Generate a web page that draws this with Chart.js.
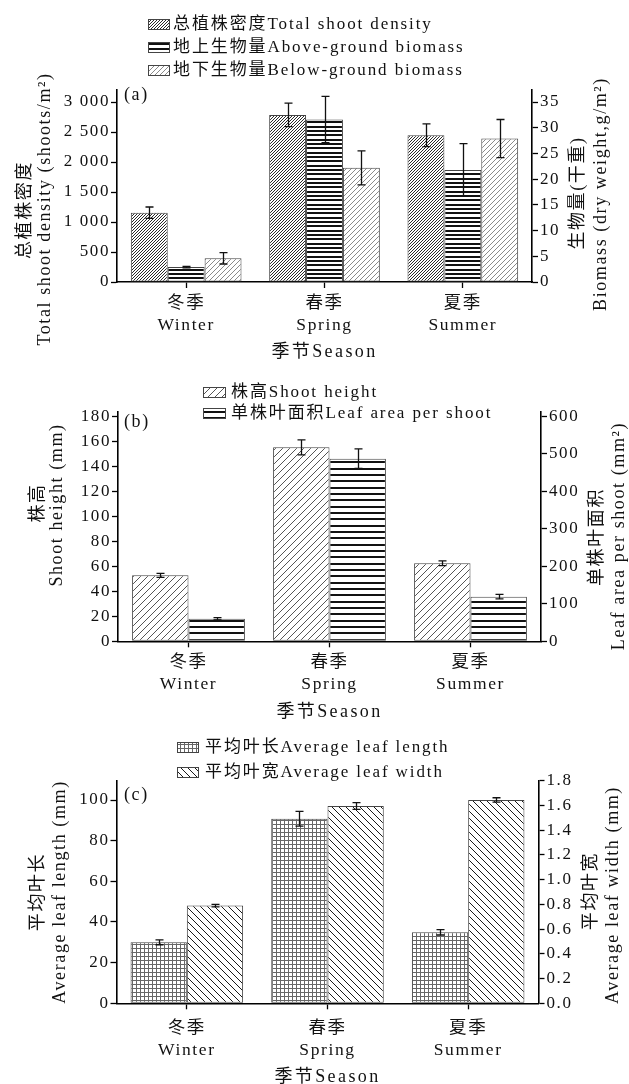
<!DOCTYPE html>
<html><head><meta charset="utf-8">
<script src="https://cdn.jsdelivr.net/npm/chart.js@4.4.1/dist/chart.umd.min.js"></script>
<style>
html,body{margin:0;padding:0;background:#fff;}
#wrap{position:relative;width:629px;height:1084px;overflow:hidden;background:#fff;}
canvas{position:absolute;left:0;}
</style></head><body>
<div id="wrap">
<canvas id="cA" width="629" height="360" style="top:0;width:629px;height:360px"></canvas>
<canvas id="cB" width="629" height="360" style="top:360px;width:629px;height:360px"></canvas>
<canvas id="cC" width="629" height="364" style="top:720px;width:629px;height:364px"></canvas>
</div>
<script>
// ---------- data ----------
const seasons = [['冬季','Winter'],['春季','Spring'],['夏季','Summer']];
// (a)
const shootDensity = [1155, 2785, 2445];
const shootDensityErr = [95, 195, 190];
const aboveBiomass = [2.9, 31.6, 21.8];
const aboveBiomassErr = [0.15, 4.5, 5.1];
const belowBiomass = [4.6, 22.2, 27.9];
const belowBiomassErr = [1.1, 3.3, 3.7];
const densityTicks = [0, 500, 1000, 1500, 2000, 2500, 3000];
const densityTickLabels = ['0', '500', '1 000', '1 500', '2 000', '2 500', '3 000'];
const biomassTicks = [0, 5, 10, 15, 20, 25, 30, 35];
const biomassTickLabels = ['0', '5', '10', '15', '20', '25', '30', '35'];
// (b)
const shootHeight = [52.8, 155.2, 62.4];
const shootHeightErr = [1.6, 6.0, 1.9];
const leafArea = [60, 487, 119];
const leafAreaErr = [3, 26, 6];
const heightTicks = [0, 20, 40, 60, 80, 100, 120, 140, 160, 180];
const heightTickLabels = ['0', '20', '40', '60', '80', '100', '120', '140', '160', '180'];
const areaTicks = [0, 100, 200, 300, 400, 500, 600];
const areaTickLabels = ['0', '100', '200', '300', '400', '500', '600'];
// (c)
const leafLength = [30.0, 90.8, 34.9];
const leafLengthErr = [1.2, 3.6, 1.3];
const leafWidth = [0.79, 1.595, 1.644];
const leafWidthErr = [0.01, 0.027, 0.018];
const lengthTicks = [0, 20, 40, 60, 80, 100];
const lengthTickLabels = ['0', '20', '40', '60', '80', '100'];
const widthTicks = [0, 0.2, 0.4, 0.6, 0.8, 1.0, 1.2, 1.4, 1.6, 1.8];
const widthTickLabels = ['0.0', '0.2', '0.4', '0.6', '0.8', '1.0', '1.2', '1.4', '1.6', '1.8'];

// ---------- styling helpers ----------
const FAM = "'Liberation Serif', 'Noto Sans CJK SC', serif";
const TXT = '#111';
const LS = '1.6px';

function makeTile(w, h, draw) {
  const c = document.createElement('canvas');
  c.width = w; c.height = h;
  const g = c.getContext('2d');
  g.fillStyle = '#fff'; g.fillRect(0, 0, w, h);
  draw(g, w, h);
  return c;
}
function diagPattern(ctx, s, color, lw, dir) {
  return ctx.createPattern(makeTile(s, s, (g, w, h) => {
    g.strokeStyle = color; g.lineWidth = lw; g.beginPath();
    for (let k = -1; k <= 1; k++) {
      if (dir > 0) { g.moveTo(k * s, s); g.lineTo(k * s + s, 0); }
      else { g.moveTo(k * s, 0); g.lineTo(k * s + s, s); }
    }
    g.stroke();
  }), 'repeat');
}
function stripePattern(ctx, h, rows, color) {
  return ctx.createPattern(makeTile(4, h, (g) => {
    g.fillStyle = color;
    rows.forEach(r => g.fillRect(0, r[0], 4, r[1]));
  }), 'repeat');
}
function gridPattern(ctx, s, color) {
  return ctx.createPattern(makeTile(s, s, (g, w, h) => {
    g.fillStyle = color;
    g.fillRect(0, 0, w, 1);
    g.fillRect(0, 0, 1, h);
  }), 'repeat');
}

// ---------- plugins ----------
const spacingPlugin = {
  id: 'spacing',
  beforeLayout(c) { c.ctx.letterSpacing = LS; },
  beforeDraw(c) { c.ctx.letterSpacing = LS; }
};

const errorBarPlugin = {
  id: 'errorBars',
  afterDatasetsDraw(chart) {
    const ctx = chart.ctx;
    chart.data.datasets.forEach((ds, i) => {
      if (!ds.errors) return;
      const meta = chart.getDatasetMeta(i);
      const sc = chart.scales[ds.yAxisID];
      ctx.save();
      ctx.strokeStyle = '#111';
      ctx.lineWidth = 1.3;
      meta.data.forEach((bar, j) => {
        const v = ds.data[j], e = ds.errors[j];
        const y1 = sc.getPixelForValue(v + e), y2 = sc.getPixelForValue(v - e);
        const x = Math.round(bar.x) + 0.5;
        ctx.beginPath();
        ctx.moveTo(x, y1); ctx.lineTo(x, y2);
        ctx.moveTo(x - 4, y1); ctx.lineTo(x + 4, y1);
        ctx.moveTo(x - 4, y2); ctx.lineTo(x + 4, y2);
        ctx.stroke();
      });
      ctx.restore();
    });
  }
};

const decorPlugin = {
  id: 'decor',
  afterDraw(chart, args, o) {
    const ctx = chart.ctx;
    const ca = chart.chartArea;
    ctx.save();
    ctx.fillStyle = TXT;
    // legend
    if (o.legend) {
      const L = o.legend;
      ctx.letterSpacing = '1.9px';
      ctx.font = `17px ${FAM}`;
      ctx.textBaseline = 'middle';
      ctx.textAlign = 'left';
      chart.data.datasets.forEach((ds, i) => {
        const y = L.ys[i];
        ctx.fillStyle = ds.backgroundColor;
        ctx.fillRect(L.x, y - L.h / 2, L.w, L.h);
        ctx.strokeStyle = '#444'; ctx.lineWidth = 1;
        ctx.strokeRect(L.x + 0.5, Math.round(y - L.h / 2) + 0.5, L.w, L.h);
        ctx.fillStyle = TXT;
        ctx.fillText(ds.label, L.textX, y + 1);
      });
    }
    // rotated axis titles
    ctx.letterSpacing = LS;
    (o.titles || []).forEach(t => {
      ctx.font = `18px ${FAM}`;
      ctx.textAlign = 'center';
      ctx.textBaseline = 'middle';
      t.lines.forEach((line, k) => {
        ctx.save();
        ctx.translate(t.xs[k], t.cys[k]);
        ctx.rotate(-Math.PI / 2);
        ctx.fillText(line, 0, 0);
        ctx.restore();
      });
    });
    // x title
    if (o.xTitle) {
      ctx.letterSpacing = '2.4px';
      ctx.font = `18px ${FAM}`;
      ctx.textAlign = 'center';
      ctx.textBaseline = 'middle';
      ctx.fillText(o.xTitle.text, (ca.left + ca.right) / 2, o.xTitle.y);
    }
    // panel tag
    if (o.tag) {
      ctx.letterSpacing = LS;
      ctx.font = `18px ${FAM}`;
      ctx.textAlign = 'left';
      ctx.textBaseline = 'middle';
      ctx.fillText(o.tag.text, o.tag.x, o.tag.y);
    }
    ctx.restore();
  }
};

function yScale(pos, max, vals, labels, width, pad) {
  return {
    type: 'linear', position: pos, min: 0, max: max,
    afterBuildTicks: s => { s.ticks = vals.map(v => ({ value: v })); },
    afterFit: s => { s.width = width; },
    ticks: {
      callback: (v, i) => labels[i],
      font: { family: FAM, size: 17 }, color: TXT, padding: pad
    },
    grid: { display: true, drawOnChartArea: false, drawTicks: true, tickLength: 6, tickColor: '#000', tickWidth: 1.3 },
    border: { display: true, color: '#000', width: 1.6 }
  };
}
function xScale(height, pad) {
  return {
    type: 'category', offset: true,
    afterFit: s => { s.height = height; },
    ticks: { font: { family: FAM, size: 17.5, lineHeight: 1.27 }, color: TXT, padding: pad, maxRotation: 0, autoSkip: false },
    grid: { display: true, drawOnChartArea: false, offset: false, drawTicks: true, tickLength: 6, tickColor: '#000', tickWidth: 1.3 },
    border: { display: true, color: '#000', width: 1.6 }
  };
}
function barDs(label, data, errors, axis, bg) {
  return {
    label, data, errors, yAxisID: axis, backgroundColor: bg,
    borderColor: '#444', borderWidth: 1, borderSkipped: false,
    categoryPercentage: 0.8, barPercentage: 1.0
  };
}
function build(id, datasets, scales, padTop, decor) {
  const el = document.getElementById(id);
  return new Chart(el, {
    type: 'bar',
    data: { labels: seasons, datasets },
    options: {
      responsive: false, animation: false, devicePixelRatio: 1,
      layout: { padding: { top: padTop, left: 0, right: 0, bottom: 0 }, autoPadding: false },
      plugins: { legend: { display: false }, tooltip: { enabled: false }, decor },
      scales
    },
    plugins: [spacingPlugin, errorBarPlugin, decorPlugin]
  });
}

// ---------- panel (a) ----------
{
  const ctx = document.getElementById('cA').getContext('2d');
  const pD = diagPattern(ctx, 3, '#2a2a2a', 1, 1);
  const pA = stripePattern(ctx, 13, [[0, 2], [4, 2], [9, 2]], '#111');
  const pB = diagPattern(ctx, 5, '#8a8a8a', 1, 1);
  build('cA', [
    barDs('总植株密度Total shoot density', shootDensity, shootDensityErr, 'y', pD),
    barDs('地上生物量Above-ground biomass', aboveBiomass, aboveBiomassErr, 'y2', pA),
    barDs('地下生物量Below-ground biomass', belowBiomass, belowBiomassErr, 'y2', pB)
  ], {
    x: xScale(78, 4),
    y: yScale('left', 3210, densityTicks, densityTickLabels, 117, 1),
    y2: yScale('right', 37.45, biomassTicks, biomassTickLabels, 97, 2)
  }, 89.4, {
    legend: { x: 148, w: 21, h: 10, ys: [24, 47, 70], textX: 173 },
    titles: [
      { lines: ['总植株密度', 'Total shoot density (shoots/m²)'], xs: [25, 45], cys: [210, 209] },
      { lines: ['生物量(干重)', 'Biomass (dry weight,g/m²)'], xs: [578, 601], cys: [193, 194] }
    ],
    xTitle: { text: '季节Season', y: 352 },
    tag: { text: '(a)', x: 124, y: 95 }
  });
}

// ---------- panel (b) ----------
{
  const ctx = document.getElementById('cB').getContext('2d');
  const pH = diagPattern(ctx, 7, '#555', 1, 1);
  const pL = stripePattern(ctx, 19, [[0, 2], [6, 2], [13, 2]], '#111');
  build('cB', [
    barDs('株高Shoot height', shootHeight, shootHeightErr, 'y', pH),
    barDs('单株叶面积Leaf area per shoot', leafArea, leafAreaErr, 'y2', pL)
  ], {
    x: xScale(78.7, 4),
    y: yScale('left', 183.7, heightTicks, heightTickLabels, 118, 1),
    y2: yScale('right', 612.3, areaTicks, areaTickLabels, 88, 2)
  }, 51.7, {
    legend: { x: 203, w: 22, h: 10, ys: [32, 53], textX: 231 },
    titles: [
      { lines: ['株高', 'Shoot height (mm)'], xs: [38, 57], cys: [143, 145] },
      { lines: ['单株叶面积', 'Leaf area per shoot (mm²)'], xs: [597, 619], cys: [177, 176] }
    ],
    xTitle: { text: '季节Season', y: 352 },
    tag: { text: '(b)', x: 124, y: 62 }
  });
}

// ---------- panel (c) ----------
{
  const ctx = document.getElementById('cC').getContext('2d');
  const pG = gridPattern(ctx, 4, '#666');
  const pW = diagPattern(ctx, 7, '#1a1a1a', 1, -1);
  build('cC', [
    barDs('平均叶长Average leaf length', leafLength, leafLengthErr, 'y', pG),
    barDs('平均叶宽Average leaf width', leafWidth, leafWidthErr, 'y2', pW)
  ], {
    x: xScale(80.7, 8),
    y: yScale('left', 109.5, lengthTicks, lengthTickLabels, 116.5, 1),
    y2: yScale('right', 1.8, widthTicks, widthTickLabels, 90.5, 2)
  }, 60.7, {
    legend: { x: 177, w: 21, h: 10, ys: [27, 52], textX: 205 },
    titles: [
      { lines: ['平均叶长', 'Average leaf length (mm)'], xs: [38, 60], cys: [172, 172] },
      { lines: ['平均叶宽', 'Average leaf width (mm)'], xs: [591, 613], cys: [171, 175] }
    ],
    xTitle: { text: '季节Season', y: 357 },
    tag: { text: '(c)', x: 124, y: 75 }
  });
}
</script>
</body></html>
